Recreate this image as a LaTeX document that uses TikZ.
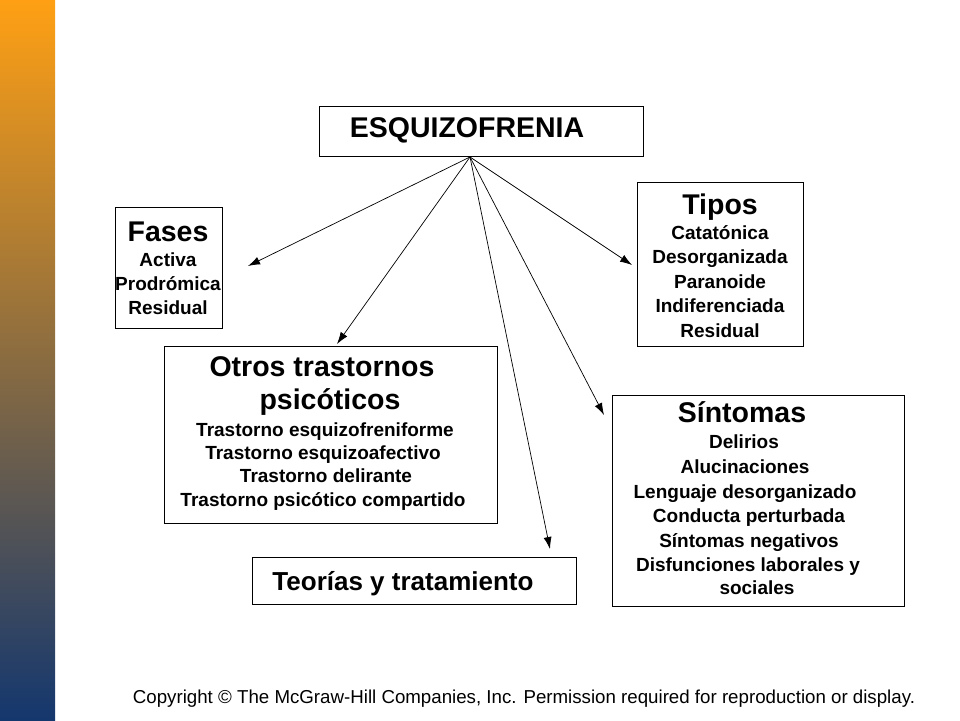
\documentclass[tikz,border=0pt]{standalone}
\usepackage{fontspec}
\setmainfont{Liberation Sans}
\usetikzlibrary{arrows.meta}
\begin{document}
\begin{tikzpicture}[x=1pt,y=-1pt,
  box/.style={draw=black,line width=0.8pt,fill=white},
  tl/.style={font=\bfseries\fontsize{19}{19}\selectfont,anchor=base,inner sep=0pt},
  tt/.style={font=\bfseries\fontsize{28.5}{28.5}\selectfont,anchor=base,inner sep=0pt},
  arr/.style={-{Latex[length=12pt,width=8pt]},line width=0.7pt}]
\definecolor{bartop}{RGB}{255,160,20}
\definecolor{barmid}{RGB}{160,95,95}
\definecolor{barbot}{RGB}{20,55,110}
\useasboundingbox (0,0) rectangle (960,720);
\fill[white] (0,0) rectangle (960,720);
\shade[top color=bartop,middle color=barmid,bottom color=barbot] (0,0) rectangle (55,720);

\node[box,minimum width=324,minimum height=50,anchor=north west] (esq) at (319,106) {};
\node[tt] at (467,137) {ESQUIZOFRENIA};

\node[box,minimum width=107,minimum height=121,anchor=north west] (fases) at (115,207) {};
\node[tt] at (168,241) {Fases};
\node[tl] at (168,266) {Activa};
\node[tl] at (168,290) {Prodrómica};
\node[tl] at (168,314) {Residual};

\node[box,minimum width=166,minimum height=164,anchor=north west] (tipos) at (637,182) {};
\node[tt] at (720,214) {Tipos};
\node[tl] at (720,239) {Catatónica};
\node[tl] at (720,263) {Desorganizada};
\node[tl] at (720,288) {Paranoide};
\node[tl] at (720,312) {Indiferenciada};
\node[tl] at (720,337) {Residual};

\node[box,minimum width=333,minimum height=177,anchor=north west] (otros) at (164,346) {};
\node[tt] at (322,376) {Otros trastornos};
\node[tt] at (330,409) {psicóticos};
\node[tl] at (325,436) {Trastorno esquizofreniforme};
\node[tl] at (323,459) {Trastorno esquizoafectivo};
\node[tl] at (326,482) {Trastorno delirante};
\node[tl] at (323,506) {Trastorno psicótico compartido};

\node[box,minimum width=292,minimum height=211,anchor=north west] (sint) at (612,395) {};
\node[tt] at (742,422) {Síntomas};
\node[tl] at (744,448) {Delirios};
\node[tl] at (745,473) {Alucinaciones};
\node[tl] at (745,498) {Lenguaje desorganizado};
\node[tl] at (749,522) {Conducta perturbada};
\node[tl] at (749,547) {Síntomas negativos};
\node[tl] at (748,571) {Disfunciones laborales y};
\node[tl] at (757,594) {sociales};

\node[box,minimum width=324,minimum height=47,anchor=north west] (teor) at (252,557) {};
\node[font=\bfseries\fontsize{26}{26}\selectfont,anchor=base,inner sep=0pt] at (403,590) {Teorías y tratamiento};

\coordinate (o) at (470,157);
\coordinate (ef) at (248,266);
\coordinate (eo) at (337,344);
\coordinate (et) at (550,549);
\coordinate (es) at (604,415);
\coordinate (ep) at (632,265);
\draw[arr] (o) -- (ef);
\draw[arr] (o) -- (eo);
\draw[arr] (o) -- (et);
\draw[arr] (o) -- (es);
\draw[arr] (o) -- (ep);

\node[font=\fontsize{18.7}{18.7}\selectfont,anchor=base,inner sep=0pt] (copy) at (524,703) {Copyright © The McGraw-Hill Companies, Inc. Permission required for reproduction or display.};
\end{tikzpicture}
\end{document}
